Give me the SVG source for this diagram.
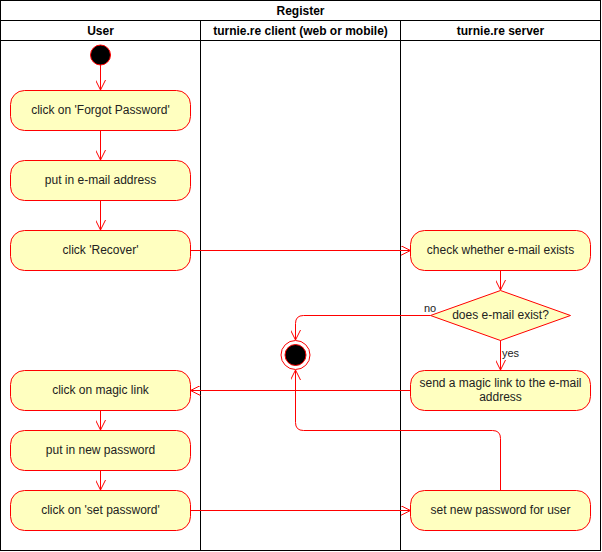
<svg xmlns="http://www.w3.org/2000/svg" width="602" height="552" viewBox="0 0 602 552">
<style>
.lane{fill:none;stroke:#000;stroke-width:1}
.hdr{font-family:"Liberation Sans",Arial,sans-serif;font-size:12px;font-weight:bold;fill:#000;text-anchor:middle}
.act rect{fill:#ffffc0;stroke:#ff0000;stroke-width:1}
.act polygon{fill:#ffffc0;stroke:#ff0000;stroke-width:1}
.txt{font-family:"Liberation Sans",Arial,sans-serif;font-size:12px;fill:#222;text-anchor:middle}
.lbl{font-family:"Liberation Sans",Arial,sans-serif;font-size:11px;fill:#222}
.edge{fill:none;stroke:#ff0000;stroke-width:1}
</style>
<defs>
<marker id="arr" viewBox="0 0 10 10" refX="10" refY="5" markerWidth="10" markerHeight="10" markerUnits="userSpaceOnUse" orient="auto">
<path d="M0,0 L10,5 L0,10" fill="none" stroke="#ff0000" stroke-width="1"/>
</marker>
</defs>
<rect width="602" height="552" fill="#fff"/>
<g id="pool">
<rect class="lane" x="0.5" y="0.5" width="600" height="550"/>
<line class="lane" x1="0.5" y1="20.5" x2="600.5" y2="20.5"/>
<line class="lane" x1="0.5" y1="40.5" x2="600.5" y2="40.5"/>
<line class="lane" x1="200.5" y1="20.5" x2="200.5" y2="550.5"/>
<line class="lane" x1="400.5" y1="20.5" x2="400.5" y2="550.5"/>
<text class="hdr" x="300.5" y="15">Register</text>
<text class="hdr" x="100.5" y="35">User</text>
<text class="hdr" x="300.5" y="35">turnie.re client (web or mobile)</text>
<text class="hdr" x="500.5" y="35">turnie.re server</text>
</g>
<g id="edges">
<path class="edge" d="M100.5,65 L100.5,90" marker-end="url(#arr)"/>
<path class="edge" d="M100.5,130 L100.5,160" marker-end="url(#arr)"/>
<path class="edge" d="M100.5,200 L100.5,230" marker-end="url(#arr)"/>
<path class="edge" d="M190.5,250.5 L410.5,250.5" marker-end="url(#arr)"/>
<path class="edge" d="M500.5,270 L500.5,290" marker-end="url(#arr)"/>
<path class="edge" d="M430.5,315.5 L303.5,315.5 Q295.5,315.5 295.5,323.5 L295.5,340" marker-end="url(#arr)"/>
<path class="edge" d="M500.5,340 L500.5,370" marker-end="url(#arr)"/>
<path class="edge" d="M410.5,390.5 L190.5,390.5" marker-end="url(#arr)"/>
<path class="edge" d="M100.5,410 L100.5,430" marker-end="url(#arr)"/>
<path class="edge" d="M100.5,470 L100.5,490" marker-end="url(#arr)"/>
<path class="edge" d="M190.5,510.5 L410.5,510.5" marker-end="url(#arr)"/>
<path class="edge" d="M500.5,490 L500.5,438.5 Q500.5,430.5 492.5,430.5 L303.5,430.5 Q295.5,430.5 295.5,422.5 L295.5,370" marker-end="url(#arr)"/>
<text class="lbl" x="424" y="312">no</text>
<text class="lbl" x="502" y="357">yes</text>
</g>
<g id="start">
<circle cx="100.5" cy="55" r="10" fill="#000" stroke="#ff0000" stroke-width="1"/>
</g>
<g id="n1" class="act">
<rect x="10.5" y="90.5" width="180" height="40" rx="14"/>
<text class="txt" x="100.5" y="114">click on 'Forgot Password'</text>
</g>
<g id="n2" class="act">
<rect x="10.5" y="160.5" width="180" height="40" rx="14"/>
<text class="txt" x="100.5" y="184">put in e-mail address</text>
</g>
<g id="n3" class="act">
<rect x="10.5" y="230.5" width="180" height="40" rx="14"/>
<text class="txt" x="100.5" y="254">click 'Recover'</text>
</g>
<g id="n4" class="act">
<rect x="410.5" y="230.5" width="180" height="40" rx="14"/>
<text class="txt" x="500.5" y="254">check whether e-mail exists</text>
</g>
<g id="d1" class="act">
<polygon points="500.5,290.5 570.5,315.5 500.5,340.5 430.5,315.5"/>
<text class="txt" x="500.5" y="319">does e-mail exist?</text>
</g>
<g id="end">
<circle cx="295.5" cy="355" r="14.5" fill="#fff" stroke="#ff0000" stroke-width="1"/>
<circle cx="295.5" cy="355" r="10.5" fill="#000" stroke="#ff0000" stroke-width="1"/>
</g>
<g id="n5" class="act">
<rect x="410.5" y="370.5" width="180" height="40" rx="14"/>
<text class="txt" x="500.5" y="386.5">send a magic link to the e-mail</text>
<text class="txt" x="500.5" y="400.5">address</text>
</g>
<g id="n6" class="act">
<rect x="10.5" y="370.5" width="180" height="40" rx="14"/>
<text class="txt" x="100.5" y="394">click on magic link</text>
</g>
<g id="n7" class="act">
<rect x="10.5" y="430.5" width="180" height="40" rx="14"/>
<text class="txt" x="100.5" y="454">put in new password</text>
</g>
<g id="n8" class="act">
<rect x="10.5" y="490.5" width="180" height="40" rx="14"/>
<text class="txt" x="100.5" y="514">click on 'set password'</text>
</g>
<g id="n9" class="act">
<rect x="410.5" y="490.5" width="180" height="40" rx="14"/>
<text class="txt" x="500.5" y="514">set new password for user</text>
</g>
</svg>
